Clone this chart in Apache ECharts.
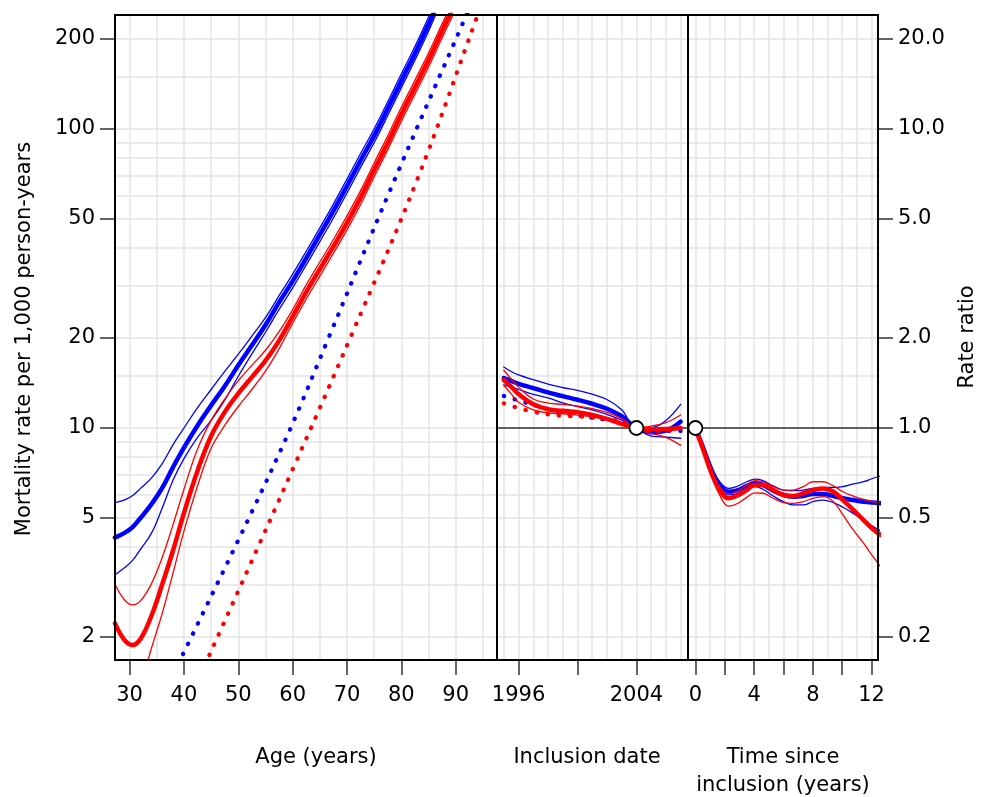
<!DOCTYPE html>
<html><head><meta charset="utf-8">
<script src="https://cdn.jsdelivr.net/npm/echarts@6/dist/echarts.min.js"></script>
<style>html,body{margin:0;padding:0;background:#fff}#c{width:994px;height:797px}</style>
</head><body><div id="c"></div>
<script>
// ---------- Age panel (rate per 1,000 person-years) ----------
const ages = [27.3, 29, 30.5, 32, 34, 36, 38, 40, 42.5, 45, 47.5, 50, 52.5, 55, 57.5, 60, 62.5, 65, 67.5, 70, 72.5, 75, 77.5, 80, 82.5, 85, 87.5, 90];
const blueRate = [4.3, 4.45, 4.65, 5.0, 5.55, 6.3, 7.4, 8.6, 10.2, 11.9, 13.8, 16.2, 18.9, 22.1, 26.3, 31, 37, 44.3, 53.2, 64.5, 78.5, 95, 117, 145, 179, 224, 285, 363];
const blueRateUp = [5.63, 5.74, 5.93, 6.28, 6.8, 7.6, 8.8, 10.0, 11.7, 13.45, 15.46, 17.66, 20.3, 23.4, 27.7, 32.7, 39.0, 46.7, 56.1, 68.0, 82.8, 100.2, 123.4, 153, 188.8, 236.3, 300.7, 383];
const blueRateLo = [3.23, 3.40, 3.60, 3.93, 4.44, 5.4, 6.7, 7.9, 9.3, 10.6, 12.4, 14.9, 17.7, 20.9, 24.9, 29.4, 35.1, 42.0, 50.4, 61.1, 74.4, 90.1, 110.9, 137.5, 169.7, 212.4, 270.2, 344.1];
const redRate = [2.22, 1.96, 1.88, 1.97, 2.35, 3.0, 3.9, 5.2, 7.2, 9.4, 11.3, 13.05, 14.8, 16.8, 19.6, 23.6, 28.5, 34, 40.5, 48.5, 59, 73, 90, 112, 138, 170, 213, 265];
const redRateUp = [3.0, 2.67, 2.56, 2.64, 3.01, 3.69, 4.76, 6.24, 8.5, 10.6, 12.5, 14.4, 16.2, 18.2, 21.0, 24.9, 30.1, 35.9, 42.7, 51.2, 62.2, 77.0, 95.0, 118.2, 145.6, 179.4, 224.7, 279.6];
const redRateLo = [1.47, 1.31, 1.28, 1.40, 1.83, 2.40, 3.28, 4.52, 6.4, 8.55, 10.2, 11.8, 13.45, 15.5, 18.4, 22.4, 27.0, 32.2, 38.4, 46.0, 55.9, 69.2, 85.3, 106.2, 130.8, 161.2, 201.9, 251.2];
// population reference rates (dotted)
const blueRefAge = [39.83, 51.6, 59.47, 66.65, 77.9, 91.95, 93.5];
const blueRefRate = [1.754, 4.85, 9.85, 20.1, 62.2, 240, 278];
const redRefAge = [44.68, 51.5, 59.96, 70.8, 82.9, 93.7, 95];
const redRefRate = [1.741, 3.28, 7.24, 20.4, 67.6, 231, 268];

// ---------- Inclusion date panel (rate ratio) ----------
const years = [1995, 1995.5, 1996, 1997, 1998, 1999, 2000, 2001, 2002, 2003, 2004, 2005, 2006, 2007];
const bluePer = [1.47, 1.437, 1.405, 1.36, 1.315, 1.278, 1.243, 1.205, 1.16, 1.095, 1.0, 0.968, 0.98, 1.05];
const bluePerUp = [1.60, 1.545, 1.505, 1.45, 1.403, 1.366, 1.335, 1.297, 1.245, 1.15, 1.0, 1.003, 1.06, 1.2];
const bluePerLo = [1.393, 1.37, 1.345, 1.295, 1.26, 1.213, 1.18, 1.149, 1.11, 1.062, 1.0, 0.94, 0.932, 0.924];
const redPer = [1.447, 1.375, 1.30, 1.20, 1.155, 1.142, 1.13, 1.106, 1.072, 1.032, 1.0, 0.99, 0.992, 1.0];
const redPerUp = [1.56, 1.46, 1.37, 1.25, 1.212, 1.199, 1.183, 1.16, 1.128, 1.075, 1.0, 1.015, 1.042, 1.105];
const redPerLo = [1.39, 1.30, 1.22, 1.15, 1.123, 1.116, 1.105, 1.09, 1.072, 1.04, 1.0, 0.96, 0.93, 0.875];
const bluePerRef = [1.28, 1.258, 1.236, 1.196, 1.156, 1.126, 1.102, 1.082, 1.064, 1.043, 1.0, 0.975, 0.977, 0.977];
const redPerRef = [1.209, 1.187, 1.165, 1.133, 1.111, 1.098, 1.093, 1.086, 1.071, 1.05, 1.0, 0.975, 0.978, 0.985];

// ---------- Time since inclusion panel (rate ratio) ----------
const tsi = [0, 0.5, 1.1, 1.65, 2.25, 2.8, 3.5, 4.05, 4.6, 5.3, 6, 6.65, 7.35, 8, 8.7, 9.4, 10.05, 10.75, 11.45, 12.1, 12.6];
const blueTsi = [1.0, 0.866, 0.724, 0.645, 0.612, 0.617, 0.64, 0.653, 0.645, 0.617, 0.597, 0.589, 0.592, 0.602, 0.602, 0.592, 0.582, 0.574, 0.567, 0.563, 0.56];
const blueTsiUp = [1.0, 0.877, 0.733, 0.661, 0.628, 0.637, 0.661, 0.674, 0.667, 0.64, 0.62, 0.617, 0.62, 0.628, 0.632, 0.633, 0.637, 0.65, 0.661, 0.679, 0.691];
const blueTsiLo = [1.0, 0.855, 0.714, 0.628, 0.597, 0.602, 0.62, 0.637, 0.624, 0.592, 0.567, 0.553, 0.553, 0.567, 0.574, 0.563, 0.543, 0.518, 0.492, 0.468, 0.453];
const redTsi = [1.0, 0.855, 0.705, 0.62, 0.582, 0.592, 0.62, 0.645, 0.645, 0.62, 0.597, 0.592, 0.605, 0.62, 0.628, 0.612, 0.574, 0.532, 0.492, 0.458, 0.439];
const redTsiUp = [1.0, 0.871, 0.72, 0.637, 0.602, 0.612, 0.645, 0.667, 0.661, 0.637, 0.62, 0.62, 0.637, 0.661, 0.661, 0.64, 0.612, 0.592, 0.577, 0.567, 0.56];
const redTsiLo = [1.0, 0.84, 0.691, 0.597, 0.548, 0.557, 0.586, 0.607, 0.605, 0.582, 0.563, 0.56, 0.567, 0.582, 0.589, 0.567, 0.512, 0.456, 0.412, 0.371, 0.344];

// reference points (rate ratio = 1)
const refPeriod = [2004, 1];
const refTime = [0, 1];

// ---------- ticks / grid lines ----------
const ageTicks = [30, 40, 50, 60, 70, 80, 90];
const periodTicks = [1996, 2000, 2004];
const periodLabels = [1996, 2004];
const timeTicks = [0, 2, 4, 6, 8, 10, 12];
const timeLabels = [0, 4, 8, 12];
const rateTicks = [2, 5, 10, 20, 50, 100, 200];
const ratioTicks = [0.2, 0.5, 1, 2, 5, 10, 20];
const rateGridVals = [2, 3, 4, 5, 6, 7, 8, 9, 10, 15, 20, 30, 40, 50, 60, 70, 80, 90, 100, 150, 200];
const ratioGridVals = [0.2, 0.3, 0.4, 0.5, 0.6, 0.7, 0.8, 0.9, 1, 1.5, 2, 3, 4, 5, 6, 7, 8, 9, 10, 15, 20];
const ageGridVals = [30, 35, 40, 45, 50, 55, 60, 65, 70, 75, 80, 85, 90, 95];
const periodGridVals = [1995, 1996, 1997, 1998, 1999, 2000, 2001, 2002, 2003, 2004, 2005, 2006, 2007];
const timeGridVals = [0, 1, 2, 3, 4, 5, 6, 7, 8, 9, 10, 11, 12];

const RATE_MIN = 1.675, RATE_MAX = 240.6;
const RR_MIN = 0.1675, RR_MAX = 24.06;
const BLUE = '#0000ff', RED = '#ff0000';
const FONT = 'DejaVu Sans';
const FS = 21;

function pairs(xs, ys) { return xs.map((x, i) => [x, ys[i]]); }
function gridMark(xVals, yVals, extra) {
  const data = yVals.map(v => ({ yAxis: v })).concat(xVals.map(v => ({ xAxis: v })));
  if (extra) data.push(extra);
  return {
    silent: true, z: 1, symbol: ['none', 'none'], label: { show: false },
    emphasis: { disabled: true }, animation: false,
    lineStyle: { color: '#e4e4e4', width: 1.5, type: 'solid' },
    data: data
  };
}
function line(xs, ys, color, width, xi, yi, opts) {
  const s = {
    type: 'line', xAxisIndex: xi, yAxisIndex: yi, data: pairs(xs, ys),
    showSymbol: false, symbol: 'none', smooth: 0.4, silent: true, z: 3, clip: true,
    lineStyle: { color: color, width: width, cap: 'round', join: 'round' }
  };
  if (opts && opts.dotted) { s.lineStyle.type = [0.5, 10.8]; s.lineStyle.width = 4.2; }
  if (opts && opts.markLine) s.markLine = opts.markLine;
  return s;
}
const tickStyle = { show: true, length: 15, lineStyle: { color: '#333', width: 1.5 } };
const labelStyle = { fontFamily: FONT, fontSize: FS, color: '#000' };
const noLine = { show: false, onZero: false };
const rateTickLog = rateTicks.map(v => Math.log10(v));
const ratioTickLog = ratioTicks.map(v => Math.log10(v));

const rrLine = { yAxis: 1, lineStyle: { color: '#333', width: 1.5, type: 'solid' } };

const option = {
  animation: false,
  backgroundColor: '#fff',
  grid: [
    { left: 115, top: 15, width: 382, height: 645, show: true, borderColor: '#000', borderWidth: 2, z: 10, backgroundColor: 'transparent' },
    { left: 497, top: 15, width: 191, height: 645, show: true, borderColor: '#000', borderWidth: 2, z: 10, backgroundColor: 'transparent' },
    { left: 688, top: 15, width: 190, height: 645, show: true, borderColor: '#000', borderWidth: 2, z: 10, backgroundColor: 'transparent' }
  ],
  xAxis: [
    { type: 'value', gridIndex: 0, position: 'bottom', min: 27.31, max: 97.6, axisLine: noLine, splitLine: { show: false },
      axisTick: Object.assign({ customValues: ageTicks }, tickStyle),
      axisLabel: Object.assign({ margin: 25, customValues: ageTicks, formatter: v => String(v) }, labelStyle) },
    { type: 'value', gridIndex: 1, position: 'bottom', min: 1994.54, max: 2007.5, axisLine: noLine, splitLine: { show: false },
      axisTick: Object.assign({ customValues: periodTicks }, tickStyle),
      axisLabel: Object.assign({ margin: 25, customValues: periodLabels, formatter: v => String(v) }, labelStyle) },
    { type: 'value', gridIndex: 2, position: 'bottom', min: -0.504, max: 12.436, axisLine: noLine, splitLine: { show: false },
      axisTick: Object.assign({ customValues: timeTicks }, tickStyle),
      axisLabel: Object.assign({ margin: 25, customValues: timeLabels, formatter: v => String(v) }, labelStyle) }
  ],
  yAxis: [
    { type: 'log', logBase: 10, gridIndex: 0, min: RATE_MIN, max: RATE_MAX, show: false, axisLine: noLine },
    { type: 'value', gridIndex: 0, position: 'left', min: Math.log10(RATE_MIN), max: Math.log10(RATE_MAX),
      axisLine: noLine, splitLine: { show: false },
      axisTick: Object.assign({ customValues: rateTickLog }, tickStyle),
      axisLabel: Object.assign({ margin: 20, customValues: rateTickLog,
        formatter: v => { const i = rateTickLog.findIndex(t => Math.abs(t - v) < 1e-6); return i >= 0 ? String(rateTicks[i]) : ''; } }, labelStyle) },
    { type: 'log', logBase: 10, gridIndex: 1, min: RR_MIN, max: RR_MAX, show: false, axisLine: noLine },
    { type: 'log', logBase: 10, gridIndex: 2, min: RR_MIN, max: RR_MAX, show: false, axisLine: noLine },
    { type: 'value', gridIndex: 2, position: 'right', min: Math.log10(RR_MIN), max: Math.log10(RR_MAX),
      axisLine: noLine, splitLine: { show: false },
      axisTick: Object.assign({ customValues: ratioTickLog }, tickStyle),
      axisLabel: Object.assign({ margin: 20, customValues: ratioTickLog,
        formatter: v => { const i = ratioTickLog.findIndex(t => Math.abs(t - v) < 1e-6); return i >= 0 ? ratioTicks[i].toFixed(1) : ''; } }, labelStyle) }
  ],
  series: [
    // age panel
    line(ages, blueRate, BLUE, 4.5, 0, 0, { markLine: gridMark(ageGridVals, rateGridVals) }),
    line(ages, blueRateUp, BLUE, 1.3, 0, 0),
    line(ages, blueRateLo, BLUE, 1.3, 0, 0),
    line(blueRefAge, blueRefRate, BLUE, 4, 0, 0, { dotted: true }),
    line(ages, redRate, RED, 4.5, 0, 0),
    line(ages, redRateUp, RED, 1.3, 0, 0),
    line(ages, redRateLo, RED, 1.3, 0, 0),
    line(redRefAge, redRefRate, RED, 4, 0, 0, { dotted: true }),
    // period panel
    line(years, bluePer, BLUE, 4.5, 1, 2, { markLine: gridMark(periodGridVals, ratioGridVals, rrLine) }),
    line(years, bluePerUp, BLUE, 1.3, 1, 2),
    line(years, bluePerLo, BLUE, 1.3, 1, 2),
    line(years, bluePerRef, BLUE, 4, 1, 2, { dotted: true }),
    line(years, redPer, RED, 4.5, 1, 2),
    line(years, redPerUp, RED, 1.3, 1, 2),
    line(years, redPerLo, RED, 1.3, 1, 2),
    line(years, redPerRef, RED, 4, 1, 2, { dotted: true }),
    // time since inclusion panel
    line(tsi, blueTsi, BLUE, 4.5, 2, 3, { markLine: gridMark(timeGridVals, ratioGridVals, rrLine) }),
    line(tsi, blueTsiUp, BLUE, 1.3, 2, 3),
    line(tsi, blueTsiLo, BLUE, 1.3, 2, 3),
    line(tsi, redTsi, RED, 4.5, 2, 3),
    line(tsi, redTsiUp, RED, 1.3, 2, 3),
    line(tsi, redTsiLo, RED, 1.3, 2, 3),
    // reference circles
    { type: 'scatter', xAxisIndex: 1, yAxisIndex: 2, data: [refPeriod], symbol: 'circle', symbolSize: 14, z: 20, silent: true,
      itemStyle: { color: '#ffffff', opacity: 1, borderColor: '#000000', borderWidth: 1.8 } },
    { type: 'scatter', xAxisIndex: 2, yAxisIndex: 3, data: [refTime], symbol: 'circle', symbolSize: 14, z: 20, silent: true,
      itemStyle: { color: '#ffffff', opacity: 1, borderColor: '#000000', borderWidth: 1.8 } }
  ],
  graphic: [
    { type: 'text', x: 25, y: 339, rotation: Math.PI / 2, silent: true,
      style: { text: 'Mortality rate per 1,000 person-years', fontFamily: FONT, fontSize: FS, fill: '#000', align: 'center', verticalAlign: 'middle' } },
    { type: 'text', x: 968, y: 337, rotation: Math.PI / 2, silent: true,
      style: { text: 'Rate ratio', fontFamily: FONT, fontSize: FS, fill: '#000', align: 'center', verticalAlign: 'middle' } },
    { type: 'text', x: 316, y: 758, silent: true,
      style: { text: 'Age (years)', fontFamily: FONT, fontSize: FS, fill: '#000', align: 'center', verticalAlign: 'middle' } },
    { type: 'text', x: 587, y: 758, silent: true,
      style: { text: 'Inclusion date', fontFamily: FONT, fontSize: FS, fill: '#000', align: 'center', verticalAlign: 'middle' } },
    { type: 'text', x: 783, y: 758, silent: true,
      style: { text: 'Time since', fontFamily: FONT, fontSize: FS, fill: '#000', align: 'center', verticalAlign: 'middle' } },
    { type: 'text', x: 783, y: 786, silent: true,
      style: { text: 'inclusion (years)', fontFamily: FONT, fontSize: FS, fill: '#000', align: 'center', verticalAlign: 'middle' } }
  ]
};
const chart = echarts.init(document.getElementById('c'), null, { renderer: 'canvas' });
chart.setOption(option);
</script>
</body></html>
